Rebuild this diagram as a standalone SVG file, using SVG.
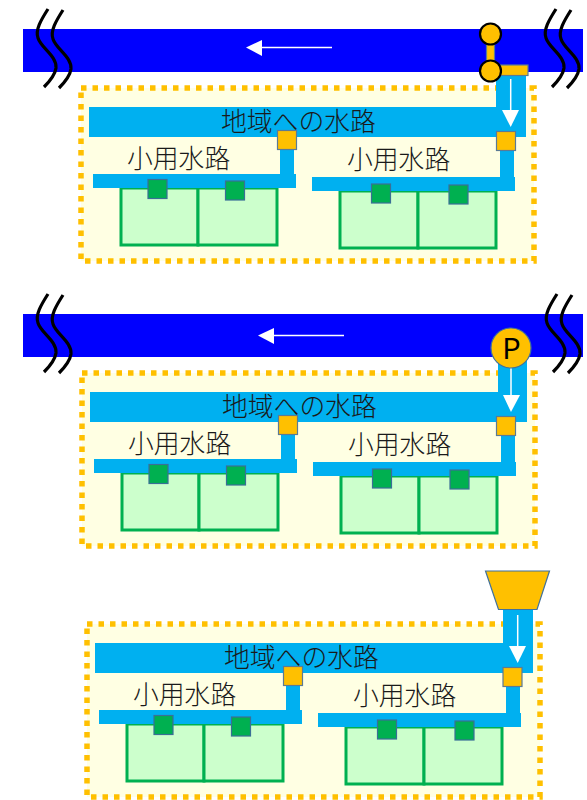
<svg xmlns="http://www.w3.org/2000/svg" width="587" height="800" viewBox="0 0 587 800">
<style>
.river{fill:#0000ff}
.ch{fill:#00b0f0}
.box{fill:#ffffe3;stroke:#ffc000;stroke-width:5.5;stroke-dasharray:5.5 6}
.field{fill:#ccffcc;stroke:#00b050;stroke-width:3}
.gate{fill:#ffc000;stroke:#5b7a95;stroke-width:1.2}
.sq{fill:#00b050;stroke:#3a6f96;stroke-width:1.2}
.wave{fill:none;stroke:#000;stroke-width:3.2;stroke-linecap:butt}
.fl{stroke:#fff;fill:none}
.hd{fill:#fff}
text{font-family:"Noto Sans CJK JP","Noto Sans",sans-serif;font-weight:300;font-size:25.8px;fill:#1a1a1a}
</style>
<defs>
<g id="waves"><path class="wave" d="M48 9C41 20 35 30 38 38C41 48 57 56 56 68C55 75 50 81 44 87"/><path class="wave" d="M63 10C56 21 50 31 53 39C56 49 72 57 71 69C70 76 65 82 59 88"/></g>
<g id="sys">
<rect class="box" x="81" y="88" width="453" height="173"/>
<rect class="ch" x="89" y="107" width="437" height="30"/>
<text x="127" y="168">小用水路</text>
<text x="347" y="169">小用水路</text>
<rect class="field" x="121" y="188" width="77" height="57"/><rect class="field" x="198" y="188" width="79" height="57"/>
<rect class="field" x="340" y="191" width="78" height="57"/><rect class="field" x="418" y="191" width="78" height="57"/>
<path class="ch" d="M280 148h14v26h2v14H93v-14h187z"/>
<path class="ch" d="M500 149h14v28h1v14H312v-14h188z"/>
<rect class="gate" x="277.500" y="130.500" width="19" height="19"/>
<rect class="sq" x="148" y="179.500" width="19" height="19"/>
<rect class="sq" x="225.500" y="181" width="19" height="19"/>
<rect class="sq" x="371.500" y="184" width="19" height="19"/>
<rect class="sq" x="449" y="185" width="19" height="19"/>
</g>
</defs>

<g id="panel1">
<rect class="river" x="23" y="29" width="560" height="43"/>
<use href="#waves" x="0" y="0"/>
<use href="#waves" x="508" y="0"/>
<g id="flow1"><path class="fl" stroke-width="1.3" d="M262 47.500H332"/><path class="hd" d="M246 47.500L262 40V56z"/></g>
<use href="#sys"/>
<text x="221" y="131">地域への水路</text>
<g id="intake1"><rect class="ch" x="496" y="72" width="30" height="65"/></g>
<rect class="gate" x="496.500" y="131.500" width="19" height="19"/>
<g id="arrow1"><path class="fl" stroke-width="1.5" d="M510.700 79V111"/><path class="hd" d="M502 110H519L510.700 127z"/></g>
<g id="sluice">
<rect class="gate" x="486.500" y="44" width="8" height="18"/>
<rect class="gate" x="500" y="65" width="28" height="10.500"/>
<circle cx="490.500" cy="34" r="10.500" fill="#ffc000" stroke="#000" stroke-width="2.200"/>
<circle cx="490.500" cy="71" r="10.500" fill="#ffc000" stroke="#000" stroke-width="2.200"/>
</g>
</g>

<g id="panel2">
<rect class="river" x="23" y="314" width="560" height="43"/>
<use href="#waves" x="0" y="285"/>
<use href="#waves" x="509" y="285"/>
<g id="flow2"><path class="fl" stroke-width="1.3" d="M274 335.500H344"/><path class="hd" d="M258 335.500L274 328V344z"/></g>
<use href="#sys" x="1" y="285"/>
<text x="222" y="416">地域への水路</text>
<g id="intake2"><rect class="ch" x="498" y="357" width="29" height="65"/></g>
<rect class="gate" x="496.500" y="416.500" width="19" height="19"/>
<g id="arrow2"><path class="fl" stroke-width="1.500" d="M511 368V396"/><path class="hd" d="M503 395H520L511 412z"/></g>
<g id="pump"><circle cx="511" cy="348" r="20" fill="#ffc000" stroke="#41719c" stroke-width="1.200"/><text x="511.500" y="359" text-anchor="middle" style="font-size:29px;font-weight:400;fill:#000">P</text></g>
</g>

<g id="panel3">
<use href="#sys" x="6" y="536"/>
<text x="224" y="667">地域への水路</text>
<g id="intake3"><rect class="ch" x="503" y="609" width="30" height="64"/></g>
<rect class="gate" x="503" y="667.500" width="19" height="19"/>
<g id="arrow3"><path class="fl" stroke-width="1.500" d="M517.700 615V647"/><path class="hd" d="M509 646H526L517.700 663z"/></g>
<path id="hopper" d="M485.500 571H549.500L537 609.500H498.500z" fill="#ffc000" stroke="#41719c" stroke-width="1.200"/>
</g>
</svg>
